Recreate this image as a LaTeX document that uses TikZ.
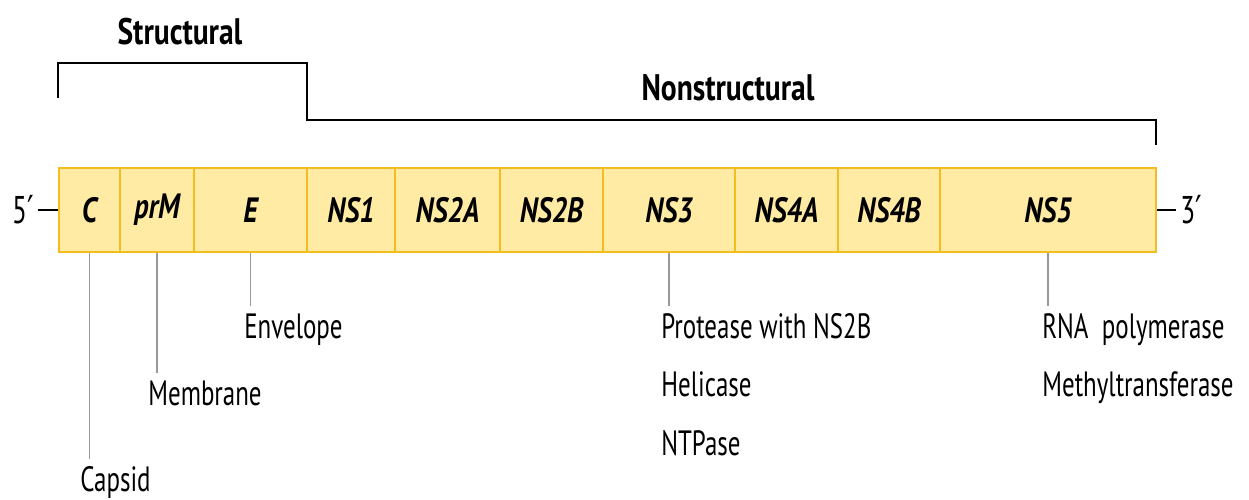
\documentclass[tikz,border=0pt]{standalone}
\usepackage{fontspec}
\setmainfont{PT Sans}[FakeStretch=0.8]
\newfontfamily\labelfont{PT Sans}[FakeStretch=0.71]
\newfontfamily\primefont{DejaVu Sans}[FakeStretch=0.75]
\definecolor{segfill}{HTML}{FFEBA3}
\definecolor{segline}{HTML}{F3BD20}

\begin{document}
\begin{tikzpicture}[x=0.02cm,y=-0.02cm,
    seg/.style={draw=segline, fill=segfill, line width=1.2pt, minimum height=1.68cm,
      inner sep=0pt, font=\fontsize{20}{24}\selectfont\bfseries\itshape},
    pin/.style={draw=black!40, line width=0.8pt},
    fn/.style={anchor=base west, inner xsep=0pt, inner ysep=4pt, font=\labelfont\fontsize{20}{24}\selectfont},
    head/.style={font=\fontsize{21}{25}\selectfont\bfseries},
    tip/.style={inner sep=0pt, font=\labelfont\fontsize{22}{26}\selectfont},
    bracket/.style={line width=1.1pt}]
  \useasboundingbox (0,0) rectangle (1249,500);

  % genome segments
  \foreach \a/\b/\n in {59/120/C, 120/194/prM, 194/307/E, 307/395/NS1, 395/500/NS2A,
      500/603/NS2B, 603/735/NS3, 735/838/NS4A, 838/940/NS4B, 940/1156/NS5}
    \node[seg, minimum width={(\b-\a)*0.02cm}] (\n) at ({(\a+\b)/2},210) {\n};

  % ends
  \node[tip, anchor=east] (five) at (34,210) {5{\primefont ′}};
  \node[tip, anchor=west] (three) at (1180,210) {3{\primefont ′}};
  \draw[bracket] ([xshift=2pt]five.east) -- (five.east -| C.west);
  \draw[bracket] (NS5.east) -- ([xshift=-2pt]NS5.east -| three.west);

  % brackets
  \node[head] (struct) at (180,32) {Structural};
  \node[head] (nonstruct) at (728,88) {Nonstructural};
  \draw[bracket] (58,98) |- (307,63) |- (1156,120) -- (1156,145);

  % functions
  \node[fn] (capsid) at (80,491) {Capsid};
  \node[fn] (membrane) at (148,405) {Membrane};
  \node[fn] (envelope) at (244,338) {Envelope};
  \node[fn] (protease) at (661,338) {Protease with NS2B};
  \node[fn] (helicase) at (661,397) {Helicase};
  \node[fn] (ntpase) at (661,455) {NTPase};
  \node[fn] (rnapol) at (1042,338) {RNA\ \ polymerase};
  \node[fn] (methyl) at (1042,397) {Methyltransferase};

  \draw[pin] (C.south) -- (C.south |- capsid.north);
  \draw[pin] (prM.south) -- (prM.south |- membrane.north);
  \draw[pin] (E.south) -- (E.south |- envelope.north);
  \draw[pin] (NS3.south) -- (NS3.south |- protease.north);
  \draw[pin] (NS5.south) -- (NS5.south |- rnapol.north);
\end{tikzpicture}
\end{document}
